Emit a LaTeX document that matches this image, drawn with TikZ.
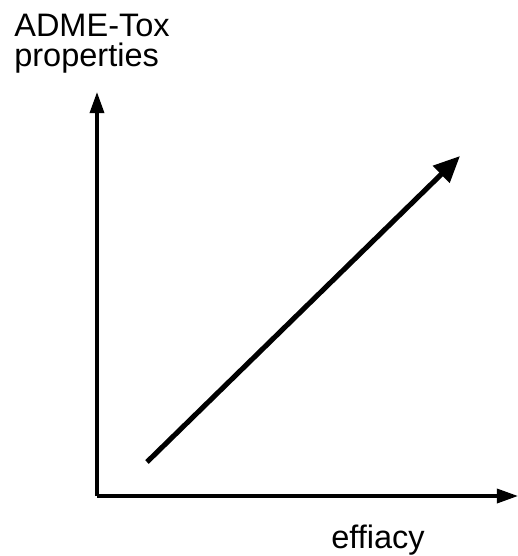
\documentclass[tikz,border=0pt]{standalone}
\usepackage{fontspec}
\setmainfont{Liberation Sans}
\usetikzlibrary{arrows.meta}

\begin{document}
\begin{tikzpicture}[x=0.02cm, y=-0.02cm,
      axis/.style={line width=1.9pt, -{Triangle[length=12pt, width=8pt]}},
      trend/.style={line width=2.9pt, -{Triangle[length=15pt, width=13pt]}},
      lbl/.style={font=\fontsize{18.5}{22}\selectfont, inner sep=0pt}]
      \useasboundingbox (0,0) rectangle (518,556);
      \coordinate (o) at (97,496);
      \coordinate (ytip) at (97,92);
      \coordinate (xtip) at (518,496);
      \coordinate (lo) at (147,462);
      \coordinate (hi) at (460,156);
      \node[lbl, anchor=base west] (ylbl1) at (14,36) {ADME-Tox};
      \node[lbl, anchor=base west] (ylbl2) at (14,66) {properties};
      \node[lbl, anchor=base] (xlbl) at (378,548) {effiacy};
      \draw[axis] (o)--(ytip);\draw[axis] (o)--(xtip);
      \draw[trend] (lo)--(hi);
    \end{tikzpicture}
\end{document}
